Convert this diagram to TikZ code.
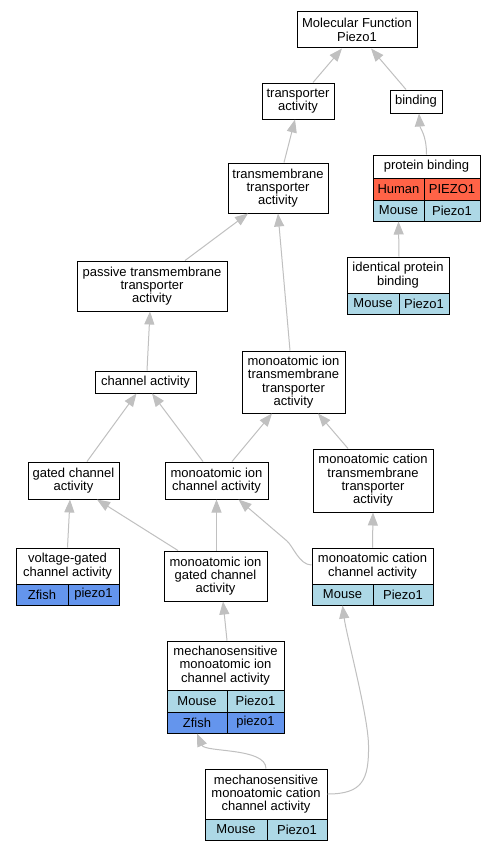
\documentclass[tikz,border=0pt]{standalone}
\usepackage{fontspec}
\setmainfont{Liberation Sans}
\usetikzlibrary{arrows.meta}
\definecolor{edgegray}{RGB}{192,192,192}
\definecolor{mouse}{RGB}{173,216,230}
\definecolor{human}{RGB}{255,99,71}
\definecolor{zfish}{RGB}{100,149,237}
\begin{document}
\begin{tikzpicture}[x=1pt,y=-1pt,
  box/.style={draw=black,line width=1pt,fill=white,inner sep=0pt,align=center,font=\fontsize{13}{13.3}\selectfont},
  edge/.style={draw=edgegray,line width=1pt,-{Triangle[length=13pt,width=10pt]}}]
\useasboundingbox (0,0) rectangle (496,851);
\fill[white] (0,0) rectangle (496,851);
% nodes
\node[box,minimum width=120pt,minimum height=36pt] (mf) at (357,30) {Molecular Function\\Piezo1};
\node[box,minimum width=72pt,minimum height=36pt] (ta) at (298,101) {transporter\\activity};
\node[box,minimum width=52pt,minimum height=23pt] (bind) at (416,101.5) {binding};
\node[box,minimum width=107pt,minimum height=23pt] (pb) at (426.5,166.5) {protein binding};
\node[box,fill=human,minimum width=51pt,minimum height=22pt] (pbh1) at (398.5,189) {Human};
\node[box,fill=human,minimum width=56pt,minimum height=22pt] (pbh2) at (452,189) {PIEZO1};
\node[box,fill=mouse,minimum width=51pt,minimum height=21pt] (pbm1) at (398.5,210.5) {Mouse};
\node[box,fill=mouse,minimum width=56pt,minimum height=21pt] (pbm2) at (452,210.5) {Piezo1};
\node[box,minimum width=100pt,minimum height=50pt] (tta) at (278,188) {transmembrane\\transporter\\activity};
\node[box,minimum width=102pt,minimum height=36pt] (ipb) at (398,275) {identical protein\\binding};
\node[box,fill=mouse,minimum width=52pt,minimum height=21pt] (ipbm1) at (373,303.5) {Mouse};
\node[box,fill=mouse,minimum width=50pt,minimum height=21pt] (ipbm2) at (424,303.5) {Piezo1};
\node[box,minimum width=150pt,minimum height=50pt] (ptta) at (152,286) {passive transmembrane\\transporter\\activity};
\node[box,minimum width=103pt,minimum height=62pt] (mitta) at (293.5,382) {monoatomic ion\\transmembrane\\transporter\\activity};
\node[box,minimum width=101pt,minimum height=22pt] (ca) at (145.5,382) {channel activity};
\node[box,minimum width=91pt,minimum height=37pt] (gca) at (73.5,480.5) {gated channel\\activity};
\node[box,minimum width=103pt,minimum height=37pt] (mica) at (216.5,480.5) {monoatomic ion\\channel activity};
\node[box,minimum width=120pt,minimum height=63pt] (mctta) at (373,480.5) {monoatomic cation\\transmembrane\\transporter\\activity};
\node[box,minimum width=103pt,minimum height=36pt] (vgca) at (67.5,566) {voltage-gated\\channel activity};
\node[box,fill=zfish,minimum width=52pt,minimum height=21pt] (vgz1) at (42,594.5) {Zfish};
\node[box,fill=zfish,minimum width=51pt,minimum height=21pt] (vgz2) at (93.5,594.5) {piezo1};
\node[box,minimum width=103pt,minimum height=50pt] (migca) at (215.5,576) {monoatomic ion\\gated channel\\activity};
\node[box,minimum width=121pt,minimum height=36pt] (mcca) at (372.5,566) {monoatomic cation\\channel activity};
\node[box,fill=mouse,minimum width=61pt,minimum height=21pt] (mccm1) at (342.5,594.5) {Mouse};
\node[box,fill=mouse,minimum width=60pt,minimum height=21pt] (mccm2) at (403,594.5) {Piezo1};
\node[box,minimum width=117pt,minimum height=49pt] (msica) at (225.5,665.5) {mechanosensitive\\monoatomic ion\\channel activity};
\node[box,fill=mouse,minimum width=60pt,minimum height=22pt] (msim1) at (197,701) {Mouse};
\node[box,fill=mouse,minimum width=57pt,minimum height=22pt] (msim2) at (255.5,701) {Piezo1};
\node[box,fill=zfish,minimum width=60pt,minimum height=21pt] (msiz1) at (197,722.5) {Zfish};
\node[box,fill=zfish,minimum width=57pt,minimum height=21pt] (msiz2) at (255.5,722.5) {piezo1};
\node[box,minimum width=122pt,minimum height=50pt] (mscca) at (266,794) {mechanosensitive\\monoatomic cation\\channel activity};
\node[box,fill=mouse,minimum width=62pt,minimum height=21pt] (mscm1) at (236,829.5) {Mouse};
\node[box,fill=mouse,minimum width=60pt,minimum height=21pt] (mscm2) at (297,829.5) {Piezo1};
\coordinate (bendA) at (287,541);
\coordinate (bendC) at (368.5,745);
% edges
\draw[edge] ([xshift=15pt]ta.north) -- ([xshift=-15pt]mf.south);
\draw[edge] ([xshift=-10pt]bind.north) -- ([xshift=14pt]mf.south);
\draw[edge] ([xshift=6pt]tta.north) -- ([xshift=-3pt]ta.south);
\draw[edge] (pb.north) .. controls +(0,-20) and +(1,15) .. ([xshift=3pt]bind.south);
\draw[edge] ([xshift=1pt]ipb.north) -- (pbm1.south);
\draw[edge] ([xshift=33pt]ptta.north) -- ([xshift=-30pt]tta.south);
\draw[edge] ([xshift=-3.5pt]mitta.north) -- (tta.south);
\draw[edge] ([xshift=1.5pt]ca.north) -- ([xshift=-2pt]ptta.south);
\draw[edge] ([xshift=13.5pt]gca.north) -- ([xshift=-9pt]ca.south);
\draw[edge] ([xshift=-13.5pt]mica.north) -- ([xshift=6.5pt]ca.south);
\draw[edge] ([xshift=15.5pt]mica.north) -- ([xshift=-21.5pt]mitta.south);
\draw[edge] ([xshift=-25pt]mctta.north) -- ([xshift=24.5pt]mitta.south);
\draw[edge] (vgca.north) -- ([xshift=-3.5pt]gca.south);
\draw[edge] ([xshift=-37.5pt]migca.north) -- ([xshift=23.5pt]gca.south);
\draw[edge] ([xshift=1pt]migca.north) -- (mica.south);
\draw[edge] ([yshift=1pt]mcca.west) .. controls +(-12,0) and +(6,5.2) .. (bendA) -- ([xshift=22pt]mica.south);
\draw[edge] (mcca.north) -- (mctta.south);
\draw[edge] ([xshift=1.5pt]msica.north) -- ([xshift=7.5pt]migca.south);
\draw[edge] (mscca.north) .. controls +(0,-21) and +(8,19) .. (msiz1.south);
\draw[edge] (mscca.east) .. controls +(35,0) and +(0.5,35) .. (bendC) .. controls +(-0.5,-30) and +(4,30) .. (mccm1.south);
\end{tikzpicture}
\end{document}
